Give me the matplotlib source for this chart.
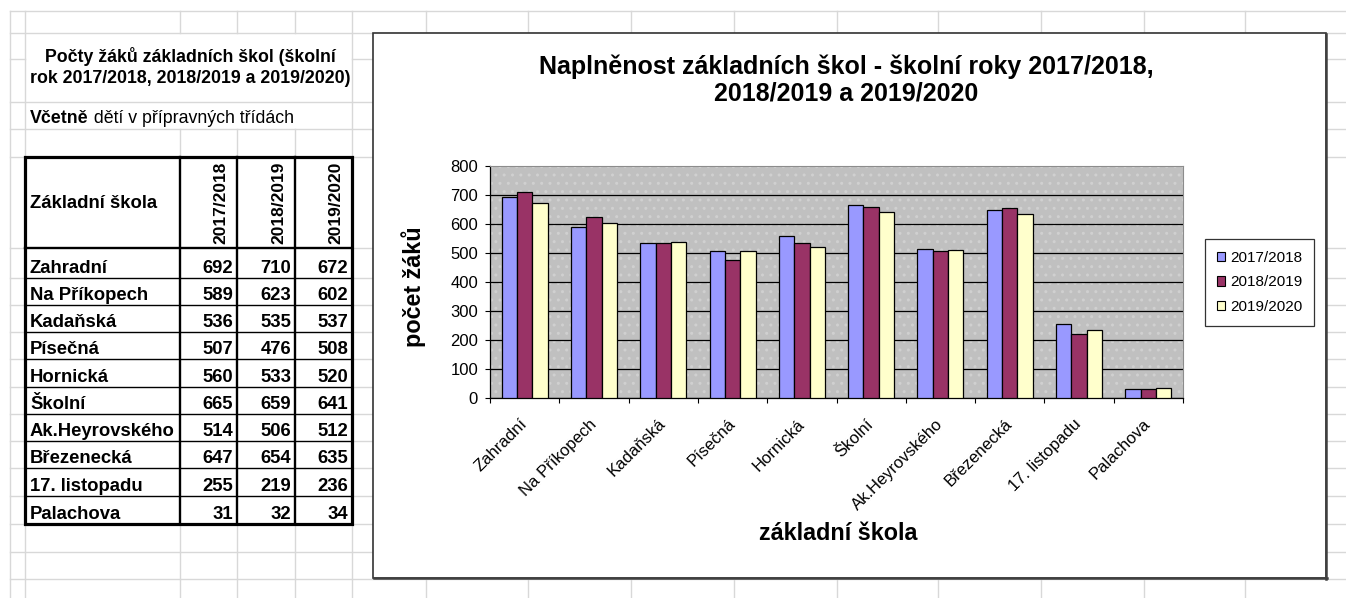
import matplotlib.pyplot as plt
from matplotlib.patches import Rectangle, Patch
import numpy as np

plt.rcParams['font.family'] = ['Liberation Sans', 'DejaVu Sans']

# data
skoly = ['Zahradní', 'Na Příkopech', 'Kadaňská', 'Písečná', 'Hornická',
         'Školní', 'Ak.Heyrovského', 'Březenecká', '17. listopadu', 'Palachova']
r2017 = [692, 589, 536, 507, 560, 665, 514, 647, 255, 31]
r2018 = [710, 623, 535, 476, 533, 659, 506, 654, 219, 32]
r2019 = [672, 602, 537, 508, 520, 641, 512, 635, 236, 34]
roky = ['2017/2018', '2018/2019', '2019/2020']
barvy = ['#9999FF', '#993366', '#FFFFCC']

W, H = 1346, 598
fig = plt.figure(figsize=(W / 100, H / 100), dpi=100)

# list sesitu na pozadi (souradnice v pixelech)
bg = fig.add_axes([0, 0, 1, 1])
bg.set_xlim(0, W)
bg.set_ylim(H, 0)
bg.axis('off')

mrizka = '#d8d8d8'
sloupce = [10, 25, 180, 237, 295, 352, 426, 528, 631, 734, 837, 938, 1041, 1144, 1245]
radky = [11, 33, 59, 102, 129, 157, 248, 278, 305, 332, 359, 387, 414, 441,
         468, 496, 524, 552, 579]
for x in sloupce:
    if x in (180, 237, 295):
        bg.plot([x, x], [11, 33], color=mrizka, lw=1)
        bg.plot([x, x], [129, H], color=mrizka, lw=1)
    else:
        bg.plot([x, x], [11, H], color=mrizka, lw=1)
for y in radky:
    if y == 59:
        bg.plot([10, 25], [y, y], color=mrizka, lw=1)
        bg.plot([352, W], [y, y], color=mrizka, lw=1)
    else:
        bg.plot([10, W], [y, y], color=mrizka, lw=1)

# nadpis tabulky
bg.text(190, 67, 'Počty žáků základních škol (školní\nrok 2017/2018, 2018/2019 a 2019/2020)',
        ha='center', va='center', fontsize=12.8, weight='bold', linespacing=1.25)
t1 = bg.text(30, 123, 'Včetně', ha='left', va='baseline', fontsize=12.8, weight='bold')
bg.annotate(' dětí v přípravných třídách', xy=(1, 0), xycoords=t1,
            ha='left', va='bottom', fontsize=12.8)

# tabulka
tx = [25, 180, 237, 295, 352]
ty = [157, 248, 278, 305, 332, 359, 387, 414, 441, 468, 496, 524]
bg.add_patch(Rectangle((25, 157), 327, 367, fc='white', ec='none', zorder=2))
for y in ty[2:-1]:
    bg.plot([25, 352], [y, y], color='black', lw=1, zorder=3)
for x in tx[1:-1]:
    bg.plot([x, x], [157, 524], color='black', lw=1.7, zorder=3)
bg.plot([25, 352], [248, 248], color='black', lw=1.7, zorder=3)
bg.add_patch(Rectangle((25, 157), 327, 367, fc='none', ec='black', lw=2.3, zorder=4))

bg.text(30, 203, 'Základní škola', ha='left', va='center', fontsize=13.3, weight='bold', zorder=5)
for j, rok in enumerate(roky):
    bg.text(tx[j + 2] - 16, 244, rok, rotation=90, ha='center', va='bottom',
            fontsize=12.5, weight='bold', zorder=5)
for i, nazev in enumerate(skoly):
    yb = ty[i + 2] - 5
    bg.text(30, yb, nazev, ha='left', va='baseline', fontsize=13.3, weight='bold', zorder=5)
    for j, hodnoty in enumerate([r2017, r2018, r2019]):
        bg.text(tx[j + 2] - 4, yb, str(hodnoty[i]), ha='right', va='baseline',
                fontsize=13.3, weight='bold', zorder=5)

# ramecek grafu
bg.add_patch(Rectangle((373, 33), 953, 545, fc='white', ec='#333333', lw=1.2, zorder=6))
bg.plot([1326, 1326], [34, 579], color='#404040', lw=1.8, zorder=7)
bg.plot([374, 1327], [578, 578], color='#404040', lw=1.8, zorder=7)
bg.text(846, 80, 'Naplněnost základních škol - školní roky 2017/2018,\n2018/2019 a 2019/2020',
        ha='center', va='center', fontsize=18, weight='bold', linespacing=1.12, zorder=8)

# sloupcovy graf
ax = fig.add_axes([490 / W, 1 - 398 / H, 693 / W, 232 / H])
ax.set_facecolor('#c0c0c0')
ax.add_patch(Rectangle((0, 0), 1, 1, transform=ax.transAxes, fc='none', ec='#d0d0d0',
                       hatch='..', lw=0, zorder=0.2))
x = np.arange(len(skoly))
w = 0.221
for i, (vals, lab, c) in enumerate(zip([r2017, r2018, r2019], roky, barvy)):
    ax.bar(x + (i - 1) * w, vals, w, color=c, edgecolor='black', linewidth=0.9,
           label=lab, zorder=3)

ax.set_xlim(-0.5, len(skoly) - 0.5)
ax.set_ylim(0, 800)
ax.set_yticks(range(0, 801, 100))
ax.yaxis.grid(True, color='black', linewidth=0.9)
ax.set_axisbelow(True)
ax.get_yaxis().get_major_ticks()[-1].gridline.set_visible(False)

ax.set_xticks(x)
ax.set_xticklabels(skoly, rotation=45, ha='right', va='center', rotation_mode='anchor')
ax.set_xticks(np.arange(-0.5, len(skoly)), minor=True)
ax.tick_params(axis='x', which='major', length=0, pad=17, labelsize=12)
ax.tick_params(axis='x', which='minor', length=3.6, width=0.8, direction='out')
ax.tick_params(axis='y', length=3.6, width=0.8, direction='out', pad=5, labelsize=12)

for s in ['left', 'bottom']:
    ax.spines[s].set_color('black')
    ax.spines[s].set_linewidth(0.9)
for s in ['top', 'right']:
    ax.spines[s].set_color('#8c8c8c')
    ax.spines[s].set_linewidth(0.8)

ax.set_ylabel('počet žáků', fontsize=16.8, weight='bold')
ax.yaxis.set_label_coords(-0.092, 0.478)
ax.set_xlabel('základní škola', fontsize=16.8, weight='bold')
ax.xaxis.set_label_coords(0.502, -0.535)

handles = [Patch(facecolor=c, edgecolor='black', linewidth=0.8) for c in barvy]
leg = fig.legend(handles, roky, loc='center',
                 bbox_to_anchor=(1259.5 / W, 1 - 282.5 / H), fontsize=11,
                 handlelength=0.55, handleheight=0.55, handletextpad=0.35,
                 labelspacing=0.7, borderpad=0.75, fancybox=False)
leg.get_frame().set_edgecolor('black')
leg.get_frame().set_linewidth(0.9)

fig.savefig('out.png', dpi=100)
